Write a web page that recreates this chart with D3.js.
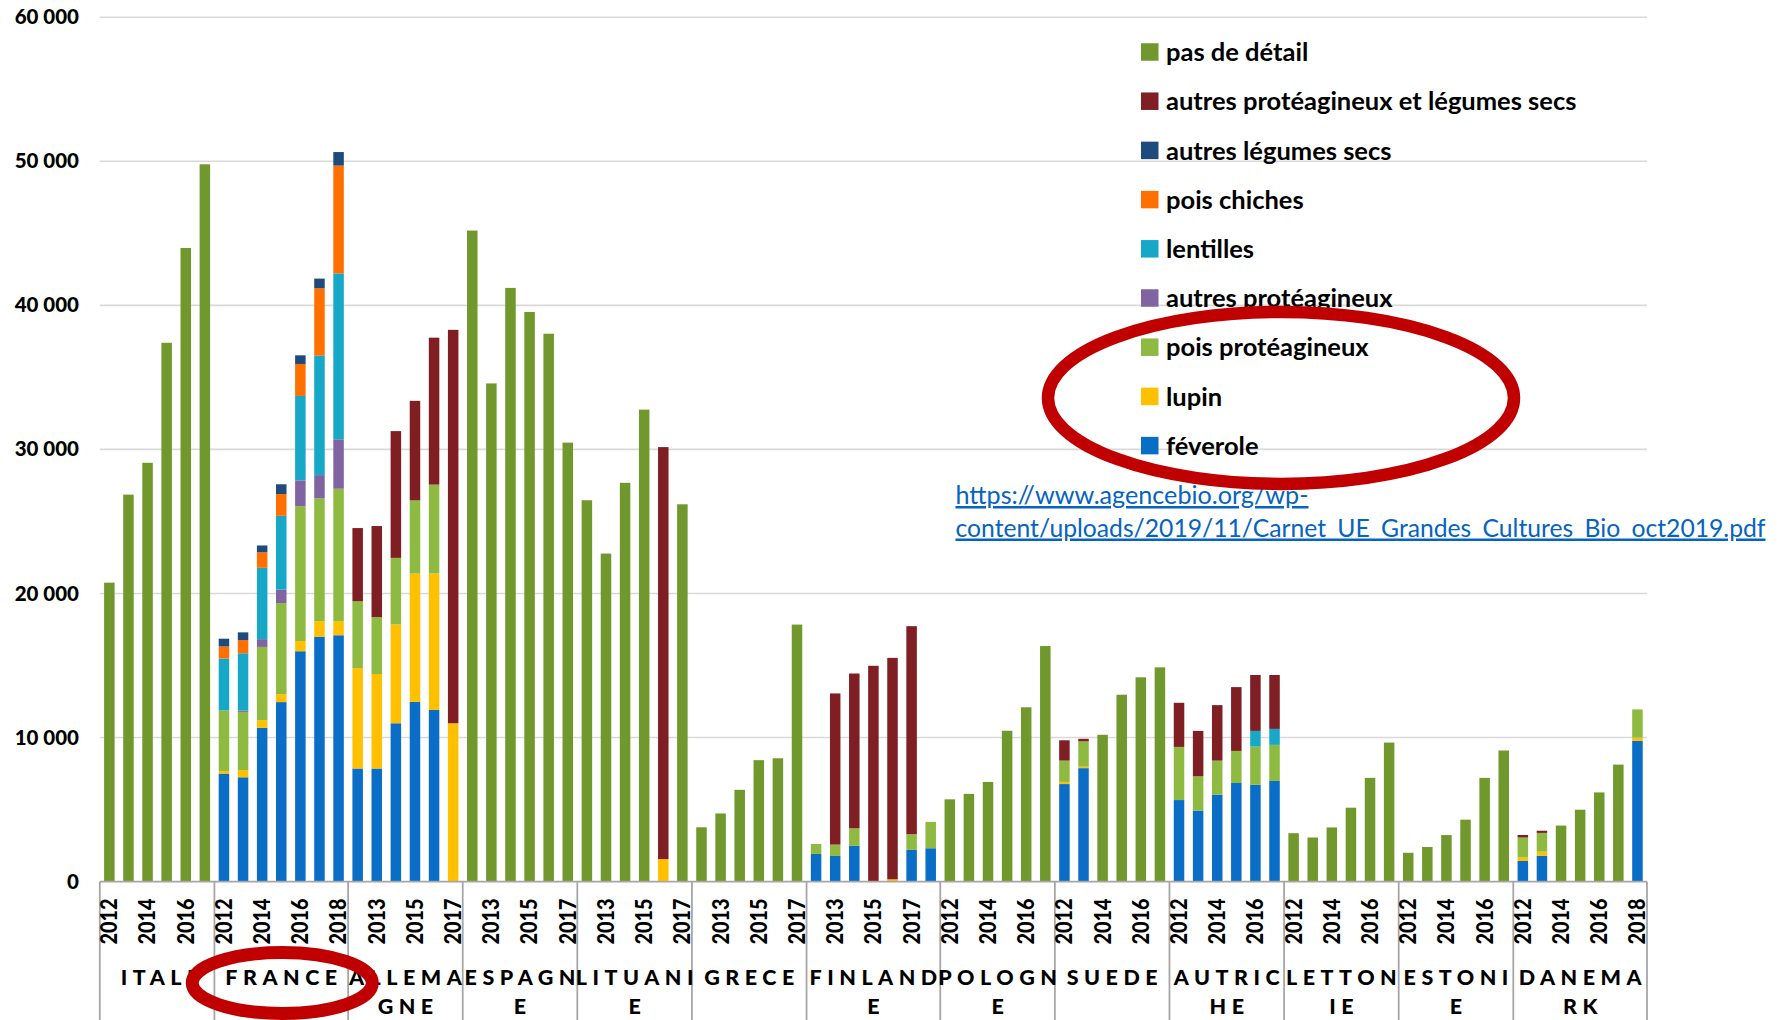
<!DOCTYPE html>
<html><head><meta charset="utf-8">
<script src="https://cdn.jsdelivr.net/npm/d3@7"></script>
<style>
body{margin:0;background:#fff}
svg{display:block}
text{font-family:Lato,"Open Sans",sans-serif}
</style>
</head><body>
<svg id="c" width="1779" height="1020"></svg>
<script>
// ---------- DATA ----------
const countries = ["ITALIE","FRANCE","ALLEMAGNE","ESPAGNE","LITUANIE","GRECE","FINLANDE","POLOGNE","SUEDE","AUTRICHE","LETTONIE","ESTONIE","DANEMARK"];
const countryLines = [["ITALI"],["FRANCE"],["ALLEMA","GNE"],["ESPAGN","E"],["LITUANI","E"],["GRECE"],["FINLAND","E"],["POLOGN","E"],["SUEDE"],["AUTRIC","HE"],["LETTON","IE"],["ESTONI","E"],["DANEMA","RK"]];
const countryYears = [
  [2012,2013,2014,2015,2016,2017],
  [2012,2013,2014,2015,2016,2017,2018],
  [2012,2013,2014,2015,2016,2017],
  [2012,2013,2014,2015,2016,2017],
  [2012,2013,2014,2015,2016,2017],
  [2012,2013,2014,2015,2016,2017],
  [2012,2013,2014,2015,2016,2017,2018],
  [2012,2013,2014,2015,2016,2017],
  [2012,2013,2014,2015,2016,2017],
  [2012,2013,2014,2015,2016,2017],
  [2012,2013,2014,2015,2016,2017],
  [2012,2013,2014,2015,2016,2017],
  [2012,2013,2014,2015,2016,2017,2018]
];
const yTicks = [0,10000,20000,30000,40000,50000,60000];

// series values, one per bar in country/year order (ha)
const pasDeDetail = [
  20750,26860,29070,37400,43980,49790,      // ITALIE
  0,0,0,0,0,0,0,                            // FRANCE
  0,0,0,0,0,0,                              // ALLEMAGNE
  45190,34580,41210,39540,38030,30470,      // ESPAGNE
  26470,22770,27680,32760,0,26190,          // LITUANIE
  3770,4730,6370,8430,8560,17840,           // GRECE
  0,0,0,0,0,0,0,                            // FINLANDE
  5710,6090,6920,10470,12100,16350,         // POLOGNE
  0,0,10190,12970,14180,14870,              // SUEDE
  0,0,0,0,0,0,                              // AUTRICHE
  3360,3060,3760,5130,7200,9650,            // LETTONIE
  2000,2400,3230,4300,7200,9100,            // ESTONIE
  0,0,3890,4990,6190,8120,0                 // DANEMARK
];
const autresProtLeg = [
  0,0,0,0,0,0,
  0,0,0,0,0,0,0,
  5080,6320,8800,6910,10200,27310,
  0,0,0,0,0,0,
  0,0,0,0,28600,0,
  0,0,0,0,0,0,
  0,10490,10745,14980,15370,14440,0,
  0,0,0,0,0,0,
  1410,175,0,0,0,0,
  3060,3150,3850,4430,3880,3740,
  0,0,0,0,0,0,
  0,0,0,0,0,0,
  175,150,0,0,0,0,0
];
const autresLegSecs = [
  0,0,0,0,0,0,
  540,540,470,675,600,670,940,
  0,0,0,0,0,0,
  0,0,0,0,0,0,
  0,0,0,0,0,0,
  0,0,0,0,0,0,
  0,0,0,0,0,0,0,
  0,0,0,0,0,0,
  0,0,0,0,0,0,
  0,0,0,0,0,0,
  0,0,0,0,0,0,
  0,0,0,0,0,0,
  0,0,0,0,0,0,0
];
const poisChiches = [
  0,0,0,0,0,0,
  840,910,1080,1515,2220,4680,7480,
  0,0,0,0,0,0,
  0,0,0,0,0,0,
  0,0,0,0,0,0,
  0,0,0,0,0,0,
  0,0,0,0,0,0,0,
  0,0,0,0,0,0,
  0,0,0,0,0,0,
  0,0,0,0,0,0,
  0,0,0,0,0,0,
  0,0,0,0,0,0,
  0,0,0,0,0,0,0
];
const lentilles = [
  0,0,0,0,0,0,
  3600,3970,4950,5120,5860,8290,11520,
  0,0,0,0,0,0,
  0,0,0,0,0,0,
  0,0,0,0,0,0,
  0,0,0,0,0,0,
  0,0,0,0,0,0,0,
  0,0,0,0,0,0,
  0,0,0,0,0,0,
  0,0,0,0,1090,1110,
  0,0,0,0,0,0,
  0,0,0,0,0,0,
  0,0,0,0,0,0,0
];
const autresProt = [
  0,0,0,0,0,0,
  0,100,540,940,1790,1615,3430,
  0,0,0,0,0,0,
  0,0,0,0,0,0,
  0,0,0,0,0,0,
  0,0,0,0,0,0,
  0,0,0,0,0,0,0,
  0,0,0,0,0,0,
  0,0,0,0,0,0,
  0,0,0,0,0,0,
  0,0,0,0,0,0,
  0,0,0,0,0,0,
  0,0,0,0,0,0,0
];
const poisProt = [
  0,0,0,0,0,0,
  4200,4040,5080,6330,9360,8520,9190,
  4640,3950,4620,5080,6170,0,
  0,0,0,0,0,0,
  0,0,0,0,0,0,
  0,0,0,0,0,0,
  695,790,1220,0,0,1090,1830,
  0,0,0,0,0,0,
  1480,1760,0,0,0,0,
  3690,2390,2370,2225,2640,2505,
  0,0,0,0,0,0,
  0,0,0,0,0,0,
  1380,1300,0,0,0,0,1950
];
const lupin = [
  0,0,0,0,0,0,
  180,500,540,540,710,1080,980,
  6970,6560,6860,8910,9470,10990,
  0,0,0,0,0,0,
  0,0,0,0,1560,0,
  0,0,0,0,0,0,
  0,0,0,0,160,0,0,
  0,0,0,0,0,0,
  150,100,0,0,0,0,
  0,0,0,0,0,0,
  0,0,0,0,0,0,
  0,0,0,0,0,0,
  250,280,0,0,0,0,230
];
const feverole = [
  0,0,0,0,0,0,
  7500,7240,10670,12460,15990,17000,17100,
  7850,7850,10990,12470,11915,0,
  0,0,0,0,0,0,
  0,0,0,0,0,0,
  0,0,0,0,0,0,
  1920,1780,2480,0,0,2200,2315,
  0,0,0,0,0,0,
  6770,7875,0,0,0,0,
  5660,4920,6030,6845,6730,6985,
  0,0,0,0,0,0,
  0,0,0,0,0,0,
  1430,1800,0,0,0,0,9770
];
const seriesKeys  = ["feverole","lupin","poisProt","autresProt","lentilles","poisChiches","autresLegSecs","autresProtLeg","pasDeDetail"];
const seriesNames = ["féverole","lupin","pois protéagineux","autres protéagineux","lentilles","pois chiches","autres légumes secs","autres protéagineux et légumes secs","pas de détail"];
const seriesColors= ["#0A6DC6","#FFC000","#8EBA42","#8064A2","#17A8C8","#FF7000","#1F4A7C","#7F1F24","#71982C"];
const linkLines = ["https://www.agencebio.org/wp-","content/uploads/2019/11/Carnet_UE_Grandes_Cultures_Bio_oct2019.pdf"];

// ---------- CHART ----------
const svg = d3.select("#c");
const X0 = 99.8, X1 = 1647, YB = 881.6, YT = 17.2;
const seriesData = {feverole,lupin,poisProt,autresProt,lentilles,poisChiches,autresLegSecs,autresProtLeg,pasDeDetail};

const bars = [];
countries.forEach((c,i)=>countryYears[i].forEach(yr=>bars.push({c,i,yr,key:c+"-"+yr})));
const rows = bars.map((b,k)=>{const r={key:b.key}; seriesKeys.forEach(s=>r[s]=seriesData[s][k]); return r;});
const stacked = d3.stack().keys(seriesKeys)(rows);

const x = d3.scaleBand().domain(bars.map(b=>b.key)).range([X0,X1]).paddingInner(0.45).paddingOuter(0.225);
const y = d3.scaleLinear().domain([0,60000]).range([YB,YT]);
const color = d3.scaleOrdinal().domain(seriesKeys).range(seriesColors);
const fmt = d3.formatLocale({thousands:" ",grouping:[3],decimal:","}).format(",");

// gridlines
svg.append("g").selectAll("line").data(yTicks.filter(d=>d>0)).join("line")
  .attr("x1",X0).attr("x2",X1).attr("y1",d=>y(d)).attr("y2",d=>y(d))
  .attr("stroke","#D9D9D9").attr("stroke-width",1.6);

// y axis labels
const ya = svg.append("g").attr("transform","translate(79,0)")
  .call(d3.axisLeft(y).tickValues(yTicks).tickFormat(fmt).tickSize(0).tickPadding(0));
ya.select(".domain").remove();
ya.selectAll("text").attr("font-family","Lato, sans-serif").attr("font-weight","900")
  .attr("font-size",20.5).attr("fill","#000");

// bars
svg.append("g").selectAll("g").data(stacked).join("g")
  .attr("fill",d=>color(d.key))
  .selectAll("rect").data(d=>d).join("rect")
  .attr("x",d=>x(d.data.key)).attr("width",x.bandwidth())
  .attr("y",d=>y(d[1])).attr("height",d=>Math.max(0,y(d[0])-y(d[1])));

// category axis
const slot = k => x(k) - (x.step()-x.bandwidth())/2;
const groups = countries.map((c,i)=>{
  const ks = countryYears[i].map(yr=>c+"-"+yr);
  const a = slot(ks[0]), b = slot(ks[ks.length-1]) + x.step();
  return {c,i,a,b,mid:(a+b)/2};
});
const axisCol = "#A6A6A6";
svg.append("line").attr("x1",X0).attr("x2",X1).attr("y1",YB).attr("y2",YB)
  .attr("stroke",axisCol).attr("stroke-width",1.8);
const bounds = groups.map(g=>g.a).concat([X1]);
svg.append("g").selectAll("line").data(bounds).join("line")
  .attr("x1",d=>d).attr("x2",d=>d).attr("y1",YB).attr("y2",1020)
  .attr("stroke",axisCol).attr("stroke-width",1.8);

// year labels (every second category)
const xa = svg.append("g").attr("transform",`translate(0,${YB})`)
  .call(d3.axisBottom(x).tickSize(0).tickFormat(""));
xa.select(".domain").remove();
svg.append("g").selectAll("text").data(bars.filter((b,k)=>k%2===0)).join("text")
  .attr("transform",d=>`translate(${x(d.key)+x.bandwidth()/2},${YB+17}) rotate(-90)`)
  .attr("text-anchor","end").attr("dy","0.36em")
  .attr("font-size",22).attr("font-weight","900").attr("fill","#000")
  .attr("textLength",46).attr("lengthAdjust","spacingAndGlyphs")
  .text(d=>d.yr);

// country labels
const LS = 5.5;
groups.forEach(g=>{
  countryLines[g.i].forEach((ln,j)=>{
    svg.append("text").attr("x",g.mid+LS/2).attr("y",985+j*29.4)
      .attr("text-anchor","middle").attr("font-size",21.5).attr("font-weight","900")
      .attr("letter-spacing",LS).attr("fill","#000").text(ln);
  });
});

// legend
const LX = 1141, LY0 = 52, LSTEP = 49.2;
const legendOrder = seriesKeys.slice().reverse();
const lg = svg.append("g");
legendOrder.forEach((k,j)=>{
  const cy = LY0 + j*LSTEP;
  lg.append("rect").attr("x",LX).attr("y",cy-8.75).attr("width",17.5).attr("height",17.5).attr("fill",color(k));
  lg.append("text").attr("x",LX+25).attr("y",cy).attr("dy","0.36em")
    .attr("font-size",25.5).attr("font-weight","700").attr("fill","#000")
    .text(seriesNames[seriesKeys.indexOf(k)]);
});

// source link
const linkLen = [353, 810];
linkLines.forEach((t,j)=>{
  svg.append("text").attr("x",955.5).attr("y",504+j*32.5)
    .attr("font-size",25).attr("fill","#0563C1")
    .attr("text-decoration","underline")
    .attr("textLength",linkLen[j]).attr("lengthAdjust","spacingAndGlyphs")
    .text(t);
});

// red annotation ellipses
const yPois = LY0 + 6*LSTEP, yFev = LY0 + 8*LSTEP;
svg.append("ellipse").attr("cx",LX+140).attr("cy",(yPois+yFev)/2+1.5)
  .attr("rx",233).attr("ry",86).attr("fill","none")
  .attr("stroke","#C00000").attr("stroke-width",12.5);
const fr = groups[1];
svg.append("ellipse").attr("cx",fr.mid+1).attr("cy",983)
  .attr("rx",90).attr("ry",30.5).attr("fill","none")
  .attr("stroke","#C00000").attr("stroke-width",13);
</script>
</body></html>
